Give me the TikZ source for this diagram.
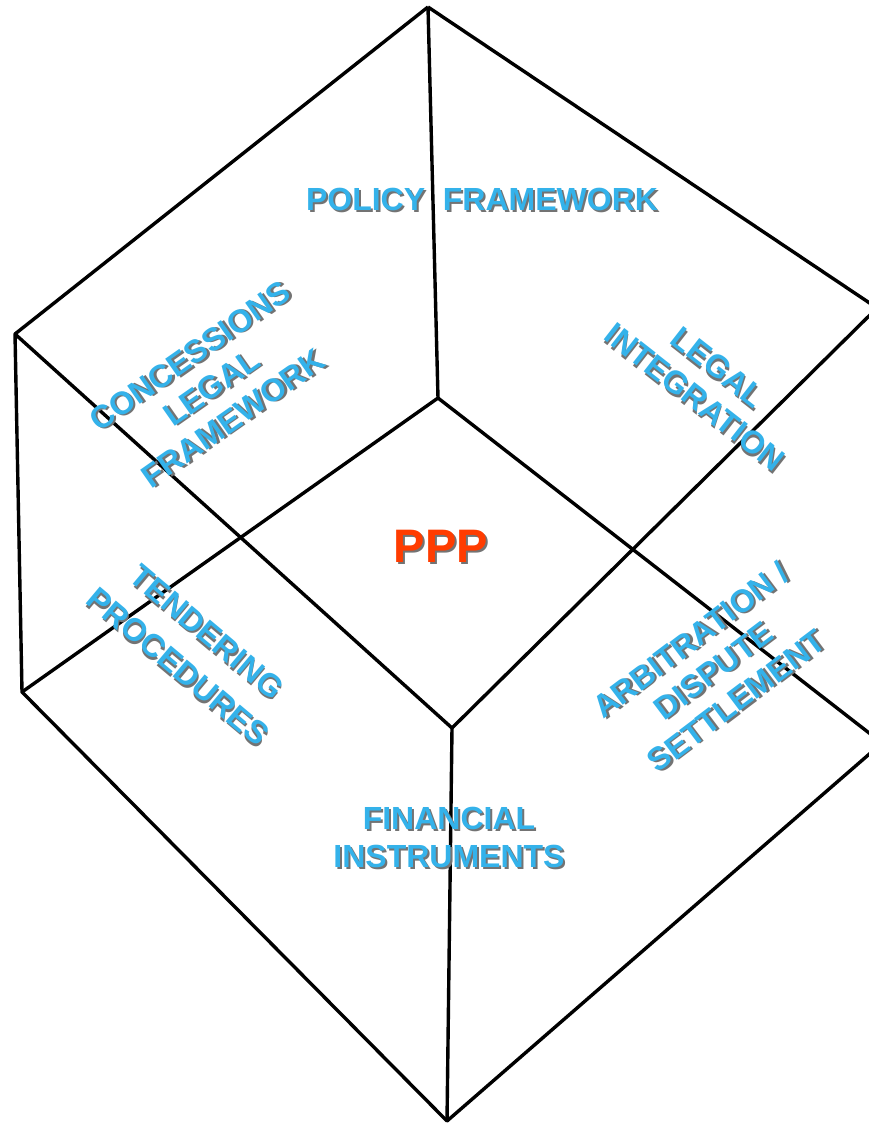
\documentclass[tikz,border=0pt]{standalone}
\usepackage{fontspec}
\setmainfont{Liberation Sans}
\definecolor{pppblue}{RGB}{52,178,234}
\definecolor{pppred}{RGB}{255,60,0}
\newcommand\shd[1]{\leavevmode\rlap{\kern2pt\raisebox{-2pt}{\textcolor{black!55}{#1}}}#1}
\tikzset{
  edge/.style={line width=3.4pt, line join=round},
  lbl/.style={text=pppblue, font=\bfseries\fontsize{32}{38}\selectfont, align=center, inner sep=0pt},
}
\begin{document}
\begin{tikzpicture}[x=1pt,y=-1pt]
   \useasboundingbox (0,0) rectangle (869,1126);
   \clip (0,0) rectangle (869,1126);
   \coordinate (T) at (428,7);
   \coordinate (UL) at (15,334);
   \coordinate (UR) at (877,308);
   \coordinate (CT) at (438,398);
   \coordinate (LL) at (22,692);
   \coordinate (CB) at (452,728);
   \coordinate (LR) at (882,743);
   \coordinate (B) at (447,1121);
   \draw[edge] (T)--(UL)--(LL)--(B)--(LR);
   \draw[edge] (UL)--(CB)--(UR)--(T);
   \draw[edge] (LL)--(CT)--(LR);
   \draw[edge] (T)--(CT);
   \draw[edge] (CB)--(B);
   \node[lbl] (policy) at (482,200) {\shd{POLICY\ \ FRAMEWORK}};
   \node[lbl, rotate=35] (concessions) at (212,388) {\shd{CONCESSIONS}\\\shd{LEGAL}\\\shd{FRAMEWORK}};
   \node[lbl, rotate=-38] (integration) at (706,383) {\shd{LEGAL}\\\shd{INTEGRATION}};
   \node[lbl, rotate=-40, font=\bfseries\fontsize{32}{45}\selectfont] (tendering) at (192,650) {\shd{TENDERING}\\\shd{PROCEDURES}};
   \node[lbl, rotate=37] (arbitration) at (714,671) {\shd{ARBITRATION /}\\\shd{DISPUTE}\\\shd{SETTLEMENT}};
   \node[lbl] (financial) at (449,838) {\shd{FINANCIAL}\\\shd{INSTRUMENTS}};
   \node[lbl, text=pppred, font=\bfseries\fontsize{47}{50}\selectfont] (ppp) at (441,547) {\shd{PPP}};
\end{tikzpicture}
\end{document}
